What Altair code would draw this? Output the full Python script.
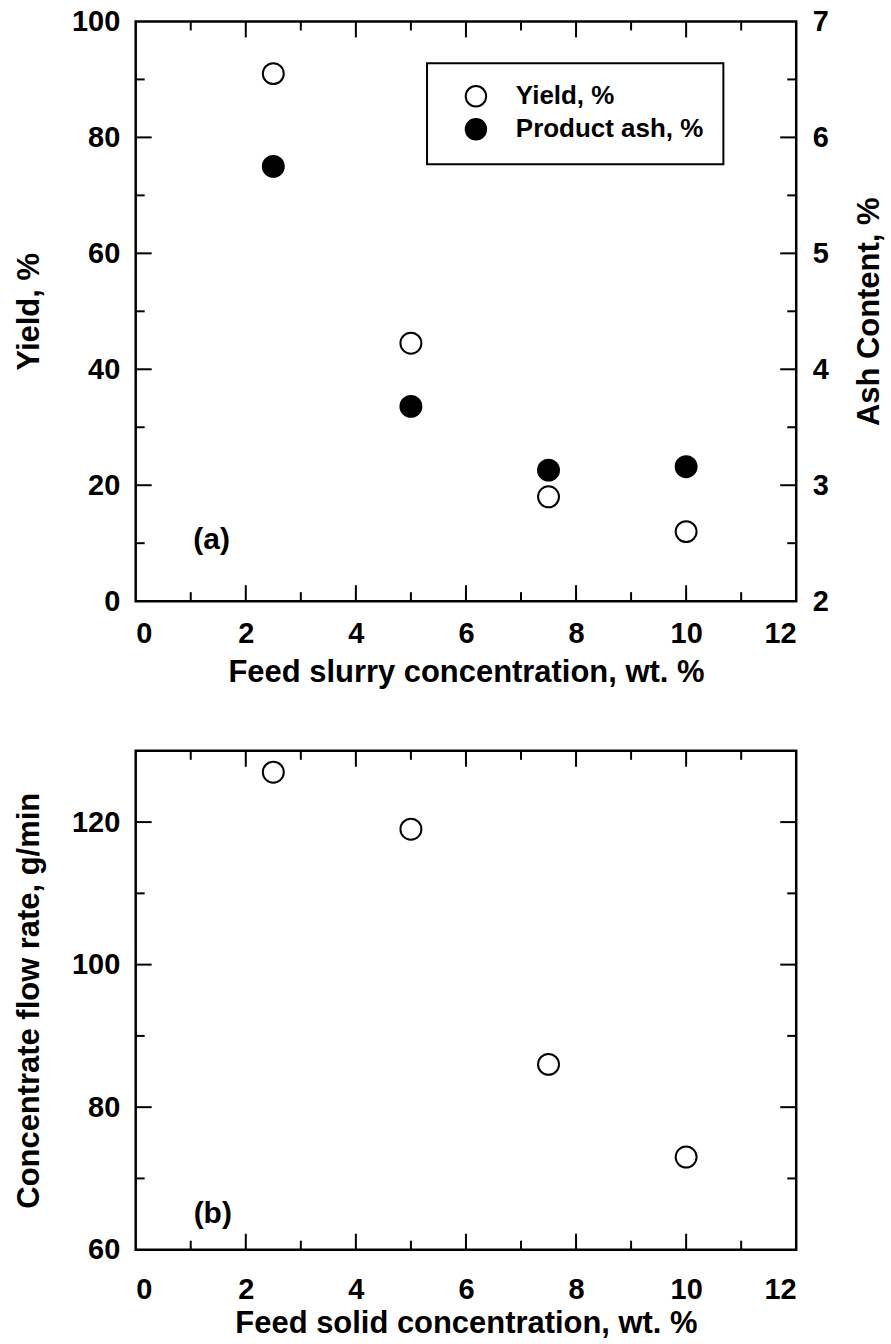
import altair as alt
import pandas as pd

# ---------------- data ----------------
conc = [2.5, 5.0, 7.5, 10.0]
yield_pct = [91.0, 44.5, 18.0, 12.0]
ash_pct = [5.75, 3.68, 3.13, 3.16]

solid_conc = [2.5, 5.0, 7.5, 10.0]
flow_rate = [127.0, 119.0, 86.0, 73.0]

series_names = ["Yield, %", "Product ash, %"]

x_ticks = [0, 2, 4, 6, 8, 10, 12]
x_major = [2, 4, 6, 8, 10]
x_minor = [1, 3, 5, 7, 9, 11]
yield_ticks = [0, 20, 40, 60, 80, 100]
yield_major = [20, 40, 60, 80]
yield_minor = [10, 30, 50, 70, 90]
ash_ticks = [2, 3, 4, 5, 6, 7]
ash_major = [3, 4, 5, 6]
ash_minor = [2.5, 3.5, 4.5, 5.5, 6.5]
flow_ticks = [60, 80, 100, 120]
flow_major = [80, 100, 120]
flow_minor = [70, 90, 110]

label_a = ["(a)"]
label_a_x = [1.38]
label_a_y = [10.5]
label_b = ["(b)"]
label_b_x = [1.4]
label_b_y = [65.0]

# ---------------- styling ----------------
W = 662
H1 = 581
H2 = 500
MAJ = 16
MIN = 9
FONT = "Liberation Sans"
LBL = 29
TTL = 31

xscale = alt.Scale(domain=[0, 12], nice=False, zero=False)
yscale_yield = alt.Scale(domain=[0, 100], nice=False)
yscale_ash = alt.Scale(domain=[2, 7], nice=False, zero=False)
yscale_flow = alt.Scale(domain=[60, 130], nice=False, zero=False)

common = dict(domain=False, ticks=False, grid=False, format="d")
ax_x_top = alt.Axis(values=x_ticks, title="Feed slurry concentration, wt. %",
                    labelPadding=18, titlePadding=10, **common)
ax_x_bot = alt.Axis(values=x_ticks, title="Feed solid concentration, wt. %",
                    labelPadding=26, titlePadding=4, **common)
ax_yield = alt.Axis(orient="left", values=yield_ticks, title="Yield, %",
                    labelPadding=16, titlePadding=26, **common)
ax_ash = alt.Axis(orient="right", values=ash_ticks, title="Ash Content, %",
                  labelPadding=16, titlePadding=26, titleAngle=270,
                  titleBaseline="top", **common)
ax_flow = alt.Axis(orient="left", values=flow_ticks,
                   title="Concentrate flow rate, g/min",
                   labelPadding=16, titlePadding=26, **common)


def x_tick_layers(vals, length, H, xaxis):
    df = pd.DataFrame({"v": vals})
    b = alt.Chart(df).mark_rule(color="black", strokeWidth=2)
    bottom = b.encode(x=alt.X("v:Q", scale=xscale, axis=xaxis),
                      y=alt.value(H), y2=alt.value(H - length))
    top = b.encode(x=alt.X("v:Q", scale=xscale, axis=xaxis),
                   y=alt.value(0), y2=alt.value(length))
    return [bottom, top]


def y_tick_layer(vals, length, scale, side, yaxis):
    df = pd.DataFrame({"v": vals})
    b = alt.Chart(df).mark_rule(color="black", strokeWidth=2)
    if side == "left":
        return b.encode(y=alt.Y("v:Q", scale=scale, axis=yaxis),
                        x=alt.value(0), x2=alt.value(length))
    return b.encode(y=alt.Y("v:Q", scale=scale, axis=yaxis),
                    x=alt.value(W), x2=alt.value(W - length))


fill_scale = alt.Scale(domain=series_names, range=["white", "black"])
legend = alt.Legend(title=None, orient="none", legendX=292, legendY=42,
                    direction="vertical", strokeColor="black", padding=20,
                    symbolType="circle", symbolSize=420, symbolStrokeWidth=2,
                    symbolStrokeColor="black", symbolOffset=16, labelOffset=27,
                    labelFontSize=26, labelFont=FONT, labelFontWeight="bold",
                    labelColor="black", rowPadding=3, labelLimit=400)

# ---------------- top panel ----------------
df_yield = pd.DataFrame({"conc": conc, "val": yield_pct,
                         "series": [series_names[0]] * len(conc)})
df_ash = pd.DataFrame({"conc": conc, "val": ash_pct,
                       "series": [series_names[1]] * len(conc)})

yield_pts = alt.Chart(df_yield).mark_point(
    shape="circle", size=440, stroke="black", strokeWidth=2, opacity=1
).encode(
    x=alt.X("conc:Q", scale=xscale, axis=ax_x_top),
    y=alt.Y("val:Q", scale=yscale_yield, axis=ax_yield),
    fill=alt.Fill("series:N", scale=fill_scale, legend=legend),
)

text_a = alt.Chart(pd.DataFrame({"t": label_a, "x": label_a_x, "y": label_a_y})).mark_text(
    font=FONT, fontSize=30, fontWeight="bold", color="black"
).encode(
    x=alt.X("x:Q", scale=xscale, axis=ax_x_top),
    y=alt.Y("y:Q", scale=yscale_yield, axis=ax_yield),
    text="t:N",
)

left_group = alt.layer(
    yield_pts,
    y_tick_layer(yield_major, MAJ, yscale_yield, "left", ax_yield),
    y_tick_layer(yield_minor, MIN, yscale_yield, "left", ax_yield),
    text_a,
    *x_tick_layers(x_major, MAJ, H1, ax_x_top),
    *x_tick_layers(x_minor, MIN, H1, ax_x_top),
)

ash_pts = alt.Chart(df_ash).mark_point(
    shape="circle", size=440, stroke="black", strokeWidth=2, opacity=1
).encode(
    x=alt.X("conc:Q", scale=xscale, axis=ax_x_top),
    y=alt.Y("val:Q", scale=yscale_ash, axis=ax_ash),
    fill=alt.Fill("series:N", scale=fill_scale, legend=legend),
)

right_group = alt.layer(
    ash_pts,
    y_tick_layer(ash_major, MAJ, yscale_ash, "right", ax_ash),
    y_tick_layer(ash_minor, MIN, yscale_ash, "right", ax_ash),
)

top = alt.layer(left_group, right_group).resolve_scale(
    y="independent").properties(width=W, height=H1)

# ---------------- bottom panel ----------------
df_flow = pd.DataFrame({"conc": solid_conc, "val": flow_rate})

flow_pts = alt.Chart(df_flow).mark_point(
    shape="circle", size=440, stroke="black", strokeWidth=2, opacity=1,
    fill="white", filled=False
).encode(
    x=alt.X("conc:Q", scale=xscale, axis=ax_x_bot),
    y=alt.Y("val:Q", scale=yscale_flow, axis=ax_flow),
)

text_b = alt.Chart(pd.DataFrame({"t": label_b, "x": label_b_x, "y": label_b_y})).mark_text(
    font=FONT, fontSize=30, fontWeight="bold", color="black"
).encode(
    x=alt.X("x:Q", scale=xscale, axis=ax_x_bot),
    y=alt.Y("y:Q", scale=yscale_flow, axis=ax_flow),
    text="t:N",
)

bottom = alt.layer(
    flow_pts,
    y_tick_layer(flow_major, MAJ, yscale_flow, "left", ax_flow),
    y_tick_layer(flow_minor, MIN, yscale_flow, "left", ax_flow),
    y_tick_layer(flow_major, MAJ, yscale_flow, "right", ax_flow),
    y_tick_layer(flow_minor, MIN, yscale_flow, "right", ax_flow),
    text_b,
    *x_tick_layers(x_major, MAJ, H2, ax_x_bot),
    *x_tick_layers(x_minor, MIN, H2, ax_x_bot),
).properties(width=W, height=H2)

chart = alt.vconcat(top, bottom, spacing=58).properties(
    padding={"left": 12, "top": 4, "right": 5, "bottom": 2},
    background="white",
).configure_view(
    stroke="black", strokeWidth=2.5
).configure_axis(
    labelFont=FONT, titleFont=FONT, labelFontWeight="bold", titleFontWeight="bold",
    labelFontSize=LBL, titleFontSize=TTL, labelColor="black", titleColor="black",
).configure_legend(
    strokeWidth=2
)

chart.save("out.html", embed_options={"renderer": "svg", "actions": False})
